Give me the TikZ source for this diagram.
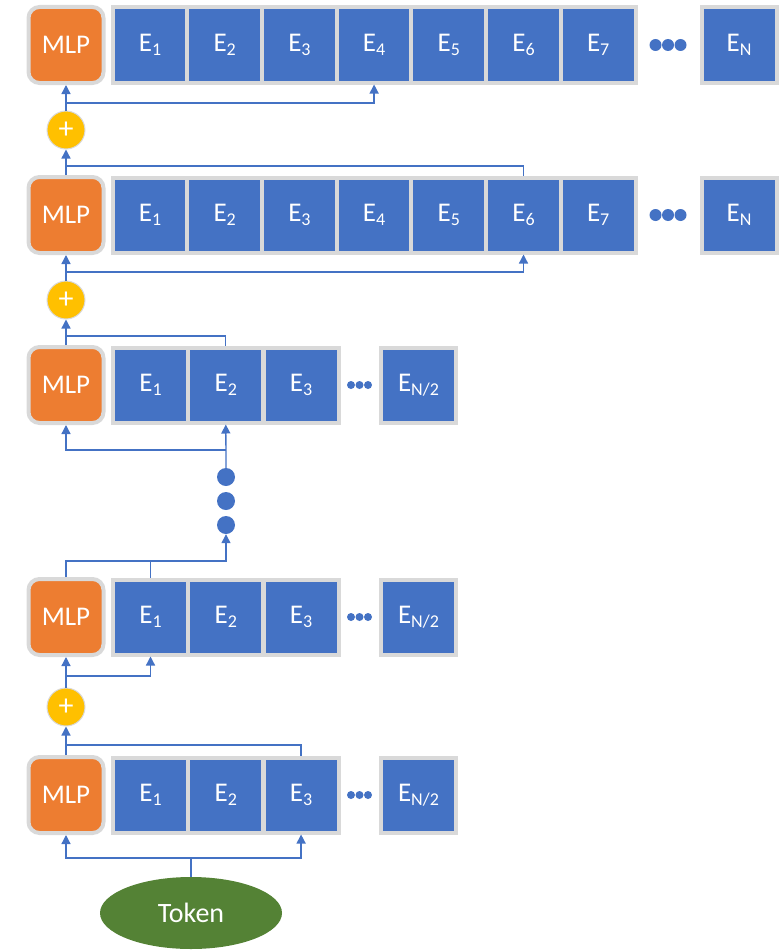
\documentclass[tikz,border=0pt]{standalone}
\usepackage{fontspec}
\setmainfont{Carlito}
\usetikzlibrary{arrows.meta}
\definecolor{cellblue}{HTML}{4472C4}
\definecolor{mlporange}{HTML}{ED7D31}
\definecolor{plusyellow}{HTML}{FFC000}
\definecolor{tokgreen}{HTML}{548235}
\definecolor{framegray}{HTML}{D9D9D9}
\newcommand{\esub}[1]{\raisebox{-4pt}{\fontsize{18}{18}\selectfont #1}}
\tikzset{
  cell/.style={draw=framegray, line width=4pt, fill=cellblue, minimum width=75pt,
    minimum height=75pt, inner sep=0pt, text=white, font=\fontsize{27}{29}\selectfont},
  mlp/.style={draw=framegray, line width=4pt, fill=mlporange, rounded corners=11pt,
    minimum width=75pt, minimum height=76pt, inner sep=0pt, text=white,
    font=\fontsize{27}{29}\selectfont},
  plus/.style={circle, draw=framegray, line width=1pt, fill=plusyellow, minimum size=38pt,
    inner sep=0pt, text=white, font=\fontsize{30}{30}\selectfont},
  bigdot/.style={circle, fill=cellblue, minimum size=18pt, inner sep=0pt},
  token/.style={ellipse, fill=tokgreen, minimum width=182pt, minimum height=72pt,
    text=white, font=\fontsize{28}{30}\selectfont},
  link/.style={draw=cellblue, line width=1.3pt},
  arr/.style={link, -{Triangle[length=9pt,width=9pt]}}
}
\usetikzlibrary{shapes.geometric}
\begin{document}
\begin{tikzpicture}[x=1pt,y=-1pt]
\useasboundingbox (0,0) rectangle (782,950);
% MLP blocks
\foreach \r/\y in {A/45,B/215,C/385,D/617,E/795}
  \node[mlp] (mlp\r) at (66,\y) {MLP};
% full rows of experts
\foreach \r/\y in {a/45,b/215}{
  \foreach \i [evaluate=\i as \x using 150+74.7*(\i-1)] in {1,...,7}
    \node[cell] (\r\i) at (\x,\y) {E\esub{\i}};
  \node[cell] (\r-N) at (739,\y) {E\esub{N}};
  \foreach \dx in {-12.5,0,12.5}
    \fill[cellblue] (668+\dx,\y) circle (6pt);
}
% half rows of experts
\foreach \r/\y in {c/385,d/617,e/795}{
  \foreach \i [evaluate=\i as \x using 150.5+75.3*(\i-1)] in {1,2,3}
    \node[cell] (\r\i) at (\x,\y) {E\esub{\i}};
  \node[cell] (\r-N) at (418.5,\y) {E\esub{N/2}};
  \foreach \dx in {-8.5,0,8.5}
    \fill[cellblue] (359.5+\dx,\y) circle (4pt);
}
% adders
\node[plus] (plusA) at (66,130) {+};
\node[plus] (plusB) at (66,300) {+};
\node[plus] (plusC) at (66,707) {+};
\foreach \k/\y in {1/477,2/501,3/525}
  \node[bigdot] (vdot\k) at (226,\y) {};
\node[token] (tok) at (191,913) {Token};

% connectors, bottom to top
\coordinate (jE) at (191,858);
\draw[link] (tok.north) -- (jE);
\draw[arr] (jE) -| (mlpE.south);
\draw[arr] (jE) -| (e3.south);
\draw[arr] (mlpE.north) -- (plusC.south);
\draw[link] (e3.north) |- (mlpE.north |- 0,745);
\draw[arr] (plusC.north) -- (mlpD.south);
\draw[arr] (plusC.north |- 0,676) -| (d1.south);
\draw[arr] (mlpD.north) |- (vdot3.south |- 0,561) -- (vdot3.south);
\draw[link] (d1.north) -- (d1.north |- 0,561);
\draw[arr] (vdot1.north) -- (c2.south);
\draw[arr] (vdot1.north |- 0,450) -| (mlpC.south);
\draw[arr] (mlpC.north) -- (plusB.south);
\draw[link] (c2.north) |- (mlpC.north |- 0,336);
\draw[arr] (plusB.north) -- (mlpB.south);
\draw[arr] (plusB.north |- 0,272) -| (b6.south);
\draw[arr] (mlpB.north) -- (plusA.south);
\draw[link] (b6.north) |- (mlpB.north |- 0,166);
\draw[arr] (plusA.north) -- (mlpA.south);
\draw[arr] (plusA.north |- 0,103) -| (a4.south);
\end{tikzpicture}
\end{document}
